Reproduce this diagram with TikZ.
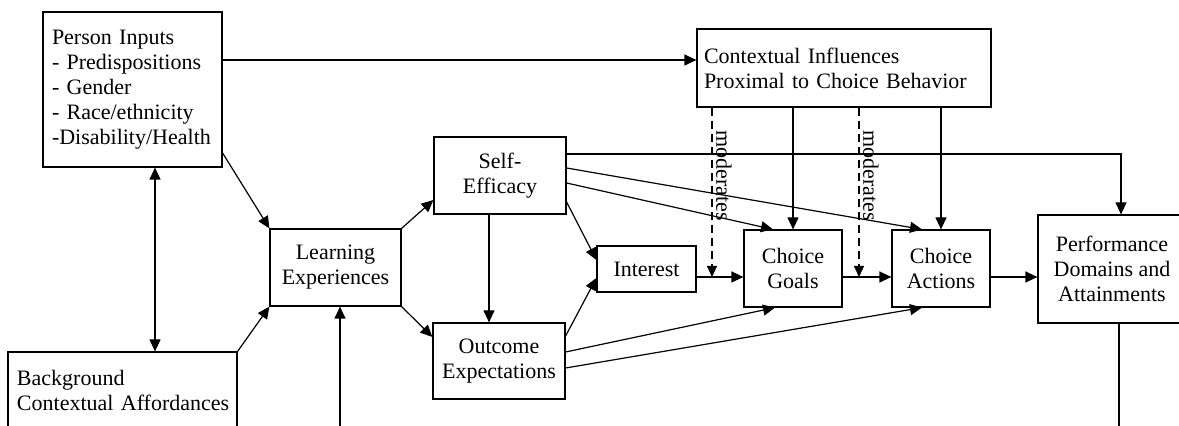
\documentclass[tikz,border=0pt]{standalone}
\usepackage{fontspec}
\setmainfont{Liberation Serif}
\usetikzlibrary{arrows.meta,calc}
\begin{document}
\begin{tikzpicture}[x=0.5pt,y=-0.5pt,
  txt/.style={font=\fontsize{11}{12.5}\selectfont},
  box/.style={draw, line width=0.6pt, inner sep=0pt, align=center, txt},
  lbox/.style={draw, line width=0.6pt, inner ysep=0pt, align=left, txt},
  arr/.style={line width=0.6pt, -{Triangle[length=6pt,width=5.5pt]}},
  dbl/.style={line width=0.6pt, {Triangle[length=6pt,width=5.5pt]}-{Triangle[length=6pt,width=5.5pt]}},
  dsh/.style={line width=0.6pt, dash pattern=on 4pt off 2.5pt, -{Triangle[length=5.5pt,width=5pt]}},
  lab/.style={rotate=-90, inner sep=0pt, txt}]
\useasboundingbox (0,0) rectangle (1179,426);
\clip (0,0) rectangle (1179,426);
% boxes
\node[lbox, inner xsep=4.5pt, text width=80.5pt, minimum height=77.5pt] (PI) at (132.5,89.5)
  {\mbox{Person Inputs}\\\mbox{- Predispositions}\\\mbox{- Gender}\\\mbox{- Race/ethnicity}\\\mbox{-Disability/Health}};
\node[lbox, inner xsep=3.5pt, text width=140pt, minimum height=39pt] (Ctx) at (844,68)
  {\mbox{Contextual Influences}\\\mbox{Proximal to Choice Behavior}};
\node[lbox, inner xsep=4.5pt, text width=105.5pt, minimum height=38.5pt] (BCA) at (122.5,390.5)
  {\mbox{Background}\\\mbox{Contextual Affordances}};
\node[box, minimum width=65.5pt, minimum height=38.5pt] (LE) at (335.5,267.5) {Learning\\Experiences};
\node[box, minimum width=66pt, minimum height=38.5pt] (SE) at (500,175.5) {Self-\\Efficacy};
\node[box, minimum width=66pt, minimum height=38pt] (OE) at (499,361) {Outcome\\Expectations};
\node[box, minimum width=49.5pt, minimum height=23pt] (Int) at (646.5,269) {Interest};
\node[box, minimum width=49pt, minimum height=38.5pt] (CG) at (793,268.5) {Choice\\Goals};
\node[box, minimum width=49pt, minimum height=38.5pt] (CA) at (941,268.5) {Choice\\Actions};
\node[box, minimum width=74pt, minimum height=54pt] (Perf) at (1112,269) {Performance\\Domains and\\Attainments};
% connectors
\draw[arr] (PI.east |- 0,60) -- (Ctx.west |- 0,60);
\draw[dbl] (PI.south -| 155,0) -- (BCA.north -| 155,0);
\draw[arr] (PI.east |- 0,153) -- (LE.north west);
\draw[arr] (BCA.north east) -- (LE.south west);
\coordinate (bot) at (340,432);
\draw[arr] (bot) -- (LE.south -| bot);
\draw[arr] (LE.north east) -- (SE.west |- 0,200);
\draw[arr] (LE.south east) -- (OE.west |- 0,337);
\draw[arr] (SE.south -| 489,0) -- (OE.north -| 489,0);
\draw[arr] (SE.east |- 0,202) -- (Int.west |- 0,260);
\draw[arr] (OE.east |- 0,336) -- (Int.west |- 0,278);
\draw[arr] (SE.east |- 0,183) -- (CG.north -| 773,0);
\draw[arr] (SE.east |- 0,168) -- (CA.north -| 922,0);
\draw[arr] (SE.east |- 0,154) -| (Perf.north -| 1121,0);
\draw[arr] (OE.east |- 0,352) -- (CG.south -| 775,0);
\draw[arr] (OE.east |- 0,368) -- (CA.south -| 922,0);
\draw[arr] (Int.east |- 0,277) -- (CG.west |- 0,277);
\draw[arr] (CG.east |- 0,277) -- (CA.west |- 0,277);
\draw[arr] (CA.east |- 0,277) -- (Perf.west |- 0,277);
\draw[arr] (Ctx.south -| CG.north) -- (CG.north);
\draw[arr] (Ctx.south -| CA.north) -- (CA.north);
\coordinate (bot2) at (1119,432);
\draw[line width=0.6pt] (Perf.south -| bot2) -- (bot2);
\coordinate (m1) at (712,277);
\coordinate (m2) at (859,277);
\draw[dsh] (Ctx.south -| m1) -- (m1);
\draw[dsh] (Ctx.south -| m2) -- (m2);
\node[lab] (lab1) at (724,176) {moderates};
\node[lab] (lab2) at (871,176) {moderates};
\end{tikzpicture}
\end{document}
